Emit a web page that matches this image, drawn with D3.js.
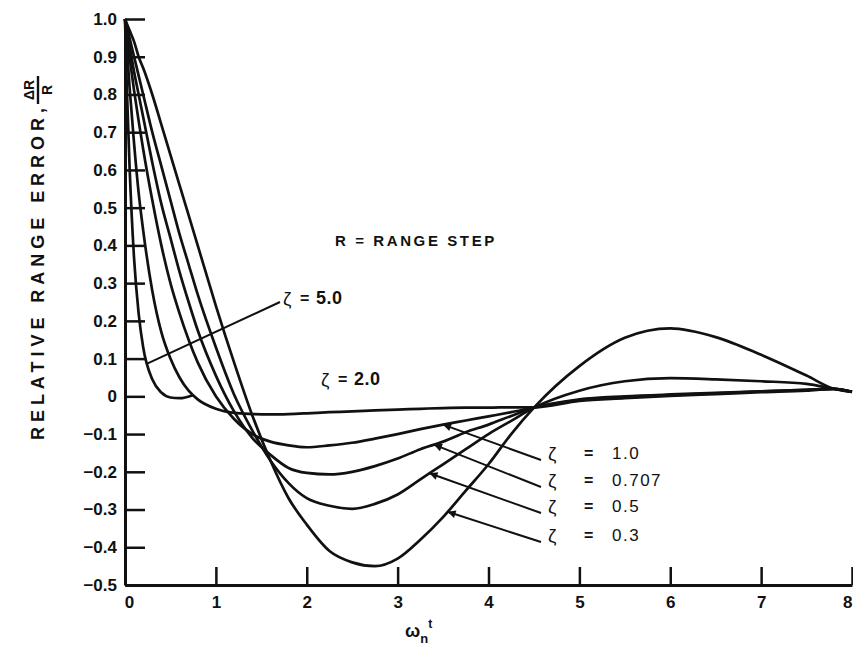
<!DOCTYPE html>
<html>
<head>
<meta charset="utf-8">
<script src="https://cdn.jsdelivr.net/npm/d3@7"></script>
<style>
  html, body { margin: 0; padding: 0; background: #fff; }
  svg { display: block; }
  text { font-family: "Liberation Sans", Arial, sans-serif; fill: #111; }
</style>
</head>
<body>
<script>
const width = 853;
const height = 645;

// DATA
const tGrid = [0, 0.05, 0.1, 0.15, 0.2, 0.3, 0.4, 0.5, 0.6, 0.7, 0.8, 1.0, 1.2, 1.4, 1.6, 1.8,
  2.0, 2.25, 2.5, 2.75, 3.0, 3.25, 3.5, 3.75, 4.0, 4.25, 4.5, 5.0, 5.5, 6.0, 6.5, 7.0, 7.5, 7.8, 8.0];

const zeta03 = [1, 0.97, 0.94, 0.90, 0.87, 0.80, 0.72, 0.64, 0.56, 0.48, 0.40, 0.24, 0.09, -0.05, -0.17, -0.27,
  -0.34, -0.41, -0.44, -0.45, -0.43, -0.38, -0.32, -0.25, -0.18, -0.10, -0.03, 0.08, 0.155, 0.18, 0.157, 0.11, 0.055, 0.02, 0.012];
const zeta05 = [1, 0.95, 0.90, 0.85, 0.80, 0.70, 0.61, 0.52, 0.43, 0.35, 0.27, 0.13, 0.005, -0.09, -0.17, -0.23,
  -0.27, -0.29, -0.298, -0.285, -0.26, -0.22, -0.18, -0.14, -0.10, -0.065, -0.03, 0.015, 0.04, 0.048, 0.045, 0.04, 0.033, 0.02, 0.012];
const zeta0707 = [1, 0.93, 0.86, 0.80, 0.74, 0.62, 0.51, 0.42, 0.33, 0.25, 0.175, 0.055, -0.04, -0.11, -0.155, -0.19,
  -0.203, -0.207, -0.20, -0.185, -0.165, -0.14, -0.12, -0.095, -0.075, -0.052, -0.03, -0.008, 0.0, 0.005, 0.009, 0.013, 0.017, 0.02, 0.012];
const zeta1 = [1, 0.90, 0.81, 0.73, 0.655, 0.52, 0.40, 0.30, 0.22, 0.15, 0.09, 0.0, -0.06, -0.10, -0.12, -0.13,
  -0.135, -0.13, -0.123, -0.112, -0.10, -0.087, -0.075, -0.064, -0.053, -0.042, -0.03, -0.01, -0.003, 0.003, 0.008, 0.013, 0.017, 0.02, 0.012];
const zeta2 = [1, 0.82, 0.67, 0.54, 0.44, 0.28, 0.17, 0.10, 0.05, 0.015, -0.008, -0.033, -0.044, -0.047, -0.048, -0.047,
  -0.045, -0.042, -0.040, -0.037, -0.035, -0.033, -0.031, -0.030, -0.030, -0.029, -0.029, -0.012, -0.005, 0.001, 0.006, 0.011, 0.015, 0.02, 0.012];

// the zeta = 5.0 curve stops where it runs into the zeta = 2.0 curve
const tZeta5 = [0, 0.02, 0.05, 0.1, 0.15, 0.2, 0.3, 0.4, 0.5, 0.6, 0.75];
const zeta5 = [1, 0.82, 0.61, 0.365, 0.22, 0.13, 0.045, 0.01, -0.003, -0.005, 0.003];

const yTicks = [-0.5, -0.4, -0.3, -0.2, -0.1, 0, 0.1, 0.2, 0.3, 0.4, 0.5, 0.6, 0.7, 0.8, 0.9, 1.0];
const yTickLabels = ['\u22120.5', '\u22120.4', '\u22120.3', '\u22120.2', '\u22120.1', '0',
  '0.1', '0.2', '0.3', '0.4', '0.5', '0.6', '0.7', '0.8', '0.9', '1.0'];
const xTicks = [0, 1, 2, 3, 4, 5, 6, 7, 8];
const xTickLabels = ['0', '1', '2', '3', '4', '5', '6', '7', '8'];

// right hand labels and where their arrows land (time on the curve)
const arrowLabels = ['1.0', '0.707', '0.5', '0.3'];
const arrowSeries = [zeta1, zeta0707, zeta05, zeta03];
const arrowTimes = [3.5, 3.4, 3.35, 3.55];

const svg = d3.select('body').append('svg')
  .attr('width', width)
  .attr('height', height);

svg.append('rect').attr('width', width).attr('height', height).attr('fill', '#fff');

const x = d3.scaleLinear().domain([0, 8]).range([125, 852]);
const y = d3.scaleLinear().domain([-0.5, 1.0]).range([585, 19]);

// AXES
const yAxis = d3.axisLeft(y)
  .tickValues(yTicks)
  .tickFormat((d, i) => yTickLabels[i])
  .tickSizeInner(-20)
  .tickSizeOuter(0)
  .tickPadding(8);

svg.append('g')
  .attr('transform', `translate(${x(0)},0)`)
  .call(yAxis)
  .call((g) => g.select('.domain').attr('stroke', '#111').attr('stroke-width', 3))
  .call((g) => g.selectAll('.tick line').attr('stroke', '#111').attr('stroke-width', 2.5))
  .call((g) => g.selectAll('.tick text').attr('font-size', 17).attr('font-weight', 'bold'));

const xAxis = d3.axisBottom(x)
  .tickValues(xTicks)
  .tickFormat((d, i) => xTickLabels[i])
  .tickSizeInner(-18)
  .tickSizeOuter(0)
  .tickPadding(11);

svg.append('g')
  .attr('transform', `translate(0,${y(-0.5)})`)
  .call(xAxis)
  .call((g) => g.select('.domain').attr('stroke', '#111').attr('stroke-width', 3))
  .call((g) => g.selectAll('.tick line').attr('stroke', '#111').attr('stroke-width', 2.5))
  .call((g) => g.selectAll('.tick text').attr('font-size', 17).attr('font-weight', 'bold'))
  .call((g) => g.selectAll('.tick').filter((d) => d === 0).select('text').attr('dx', 4))
  .call((g) => g.selectAll('.tick').filter((d) => d === 8).select('text')
    .attr('text-anchor', 'end').attr('dx', 0));

// CURVES
const line = d3.line()
  .x((d) => x(d[0]))
  .y((d) => y(d[1]))
  .curve(d3.curveMonotoneX);

const curves = [zeta03, zeta05, zeta0707, zeta1, zeta2].map((vals) => tGrid.map((t, i) => [t, vals[i]]));
curves.push(tZeta5.map((t, i) => [t, zeta5[i]]));

svg.append('g')
  .selectAll('path')
  .data(curves)
  .join('path')
  .attr('d', line)
  .attr('fill', 'none')
  .attr('stroke', '#111')
  .attr('stroke-width', 2.7)
  .attr('stroke-linejoin', 'round');

// ANNOTATIONS
const valueAt = (t, vals) => {
  const i = d3.bisectRight(tGrid, t) - 1;
  const f = (t - tGrid[i]) / (tGrid[i + 1] - tGrid[i]);
  return vals[i] + f * (vals[i + 1] - vals[i]);
};

svg.append('defs').append('marker')
  .attr('id', 'head')
  .attr('viewBox', '0 0 10 10')
  .attr('refX', 10)
  .attr('refY', 5)
  .attr('markerWidth', 15)
  .attr('markerHeight', 8)
  .attr('markerUnits', 'userSpaceOnUse')
  .attr('orient', 'auto')
  .append('path')
  .attr('d', 'M0,0L10,5L0,10z')
  .attr('fill', '#111');

svg.append('text')
  .attr('x', 335)
  .attr('y', 246)
  .attr('font-size', 15)
  .attr('font-weight', 'bold')
  .attr('letter-spacing', 2.6)
  .text('R = RANGE STEP');

const zetaLabel = (x0, y0, value) => {
  svg.append('text').attr('x', x0).attr('y', y0 + 1).attr('font-size', 19).text('\u03B6');
  svg.append('text').attr('x', x0 + 17).attr('y', y0).attr('font-size', 16).attr('font-weight', 'bold').text('=');
  svg.append('text').attr('x', x0 + 33).attr('y', y0)
    .attr('font-size', 18)
    .attr('font-weight', 'bold')
    .attr('letter-spacing', 0.5)
    .text(value);
};

// zeta = 5.0
svg.append('line')
  .attr('x1', 280).attr('y1', 302)
  .attr('x2', x(0.25)).attr('y2', y((0.13 + 0.045) / 2))
  .attr('stroke', '#111').attr('stroke-width', 2);
zetaLabel(283, 304, '5.0');

// zeta = 2.0
zetaLabel(321, 385, '2.0');

const rowY = [459, 486, 512, 541];
arrowLabels.forEach((lab, i) => {
  const t = arrowTimes[i];
  svg.append('line')
    .attr('x1', 541).attr('y1', rowY[i] + 1)
    .attr('x2', x(t)).attr('y2', y(valueAt(t, arrowSeries[i])))
    .attr('stroke', '#111').attr('stroke-width', 2)
    .attr('marker-end', 'url(#head)');
  svg.append('text').attr('x', 548).attr('y', rowY[i] + 1).attr('font-size', 19).text('\u03B6');
  svg.append('text').attr('x', 584).attr('y', rowY[i]).attr('font-size', 16).attr('font-weight', 'bold').text('=');
  svg.append('text').attr('x', 612).attr('y', rowY[i]).attr('font-size', 17)
    .attr('letter-spacing', 1.5).text(lab);
});

// AXIS TITLES
const yTitle = svg.append('g').attr('transform', 'translate(38,440) rotate(-90)');
yTitle.append('text')
  .attr('x', 0).attr('y', 6)
  .attr('font-size', 18)
  .attr('font-weight', 'bold')
  .attr('textLength', 332)
  .attr('lengthAdjust', 'spacing')
  .text('RELATIVE RANGE ERROR,');
const fx = 350;
yTitle.append('text').attr('x', fx).attr('y', -4).attr('font-size', 14).attr('font-weight', 'bold')
  .attr('text-anchor', 'middle').text('\u0394R');
yTitle.append('line').attr('x1', fx - 14).attr('x2', fx + 14).attr('y1', 0).attr('y2', 0)
  .attr('stroke', '#111').attr('stroke-width', 2.4);
yTitle.append('text').attr('x', fx).attr('y', 14).attr('font-size', 14).attr('font-weight', 'bold')
  .attr('text-anchor', 'middle').text('R');

const xTitle = svg.append('text')
  .attr('x', 405).attr('y', 637)
  .attr('font-size', 18)
  .attr('font-weight', 'bold');
xTitle.append('tspan').text('\u03C9');
xTitle.append('tspan').attr('dy', 6).attr('font-size', 13).text('n');
xTitle.append('tspan').attr('dy', -15).attr('font-size', 12).text('t');
</script>
</body>
</html>
